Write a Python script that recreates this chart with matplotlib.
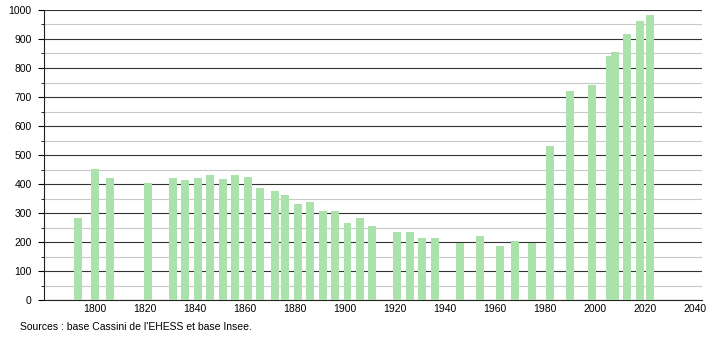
import numpy as np
import matplotlib.pyplot as plt
from matplotlib.ticker import MultipleLocator

# population by census year
years = [1793, 1800, 1806, 1821, 1831, 1836, 1841, 1846, 1851, 1856, 1861, 1866,
         1872, 1876, 1881, 1886, 1891, 1896, 1901, 1906, 1911, 1921, 1926, 1931,
         1936, 1946, 1954, 1962, 1968, 1975, 1982, 1990, 1999, 2006, 2008, 2013,
         2018, 2022]
population = [284, 452, 421, 402, 421, 415, 421, 431, 417, 431, 424, 386,
              375, 362, 331, 338, 307, 307, 266, 283, 254, 234, 234, 214,
              214, 198, 221, 186, 203, 198, 531, 721, 741, 840, 854, 917,
              962, 983]

xticks = [1800, 1820, 1840, 1860, 1880, 1900, 1920, 1940, 1960, 1980, 2000, 2020, 2040]
source = "Sources : base Cassini de l'EHESS et base Insee."

plt.rcParams['font.family'] = ['Liberation Sans', 'DejaVu Sans']

fig = plt.figure(figsize=(7.1, 3.4), dpi=100)
ax = fig.add_axes([0.062, 0.1176, 0.927, 0.853])

ax.bar(years, population, width=3.2, color='#abe2ab', zorder=3)

ax.set_xlim(1779.5, 2043)
ax.set_ylim(0, 1000)
ax.set_xticks(xticks)
ax.yaxis.set_major_locator(MultipleLocator(100))
ax.yaxis.set_minor_locator(MultipleLocator(50))
ax.grid(axis='y', which='major', color='#333333', linewidth=0.8, zorder=1)
ax.grid(axis='y', which='minor', color='#c8c8c8', linewidth=0.8, zorder=1)

for s in ['top', 'right']:
    ax.spines[s].set_visible(False)
ax.spines['left'].set_color('#222222')
ax.spines['bottom'].set_color('#222222')
ax.tick_params(axis='x', length=0, labelsize=7.5, pad=3)
ax.tick_params(axis='y', which='major', length=4, labelsize=7.5, pad=5)
ax.tick_params(axis='y', which='minor', length=2)

fig.text(0.028, 0.038, source, fontsize=7.5, ha='left', va='center')

fig.savefig('out.png', dpi=100)
